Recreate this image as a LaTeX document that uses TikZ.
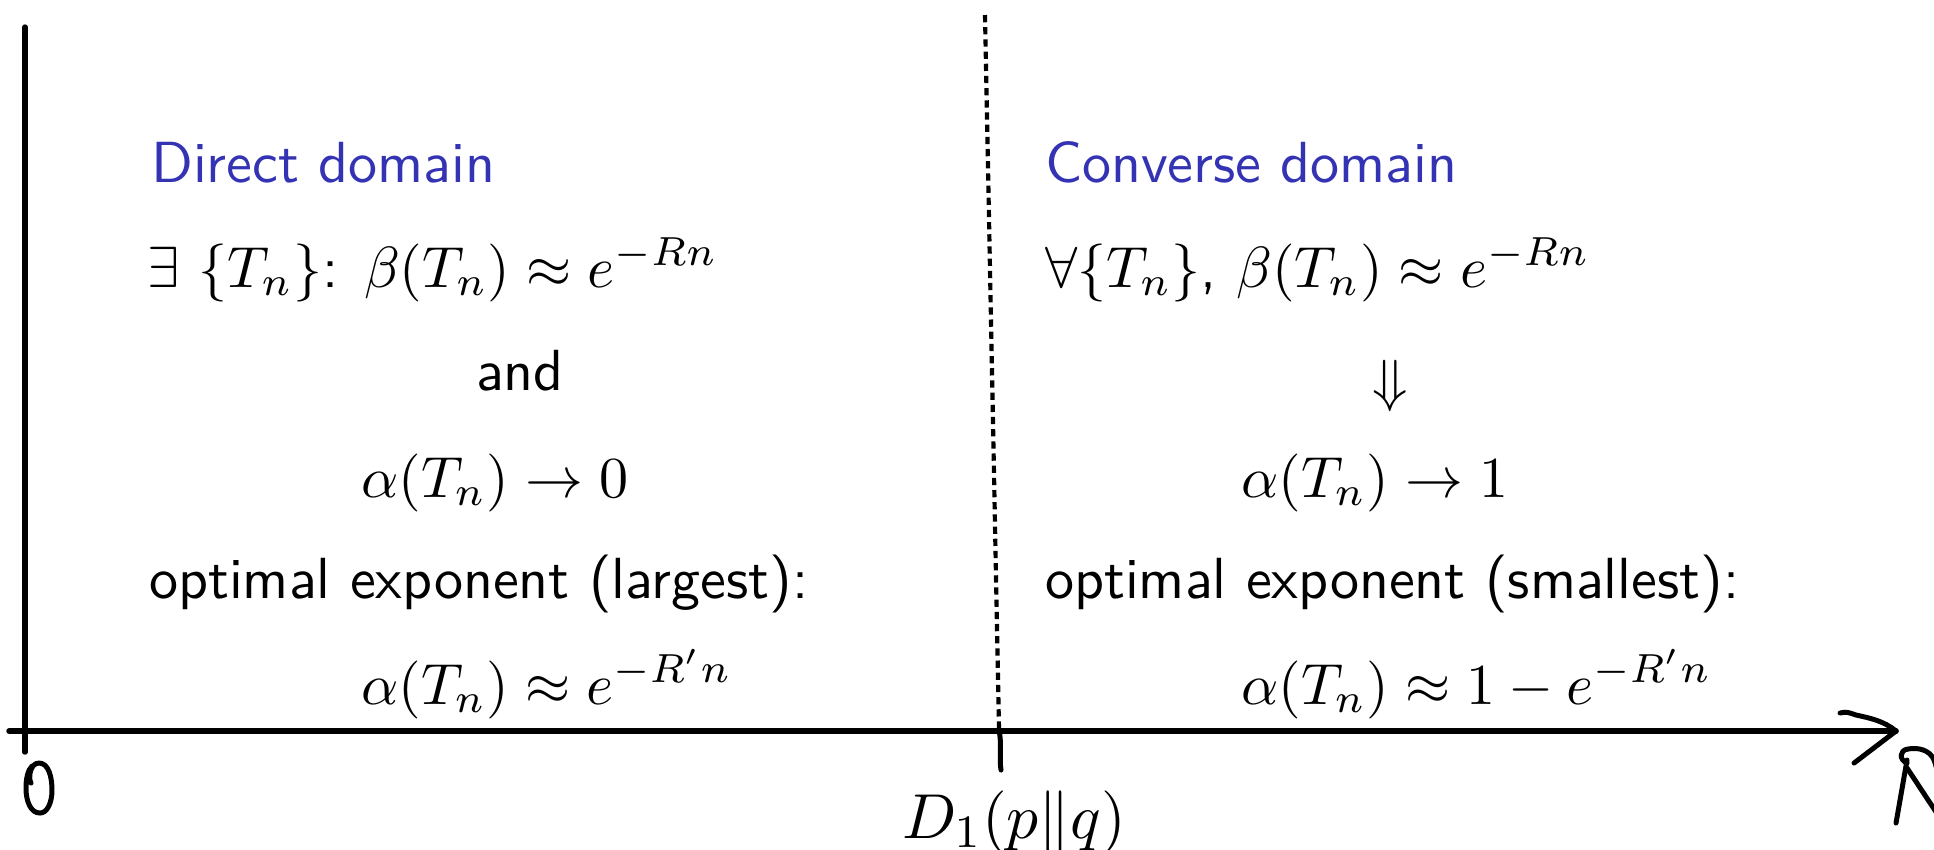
\documentclass[tikz,border=0pt]{standalone}
\usepackage{amsmath,amssymb}
\definecolor{domblue}{RGB}{51,51,179}
\tikzset{
  txt/.style={anchor=base west, inner sep=0pt, font=\fontsize{10}{12}\selectfont\sffamily},
  txtc/.style={anchor=base, inner sep=0pt, font=\fontsize{10}{12}\selectfont\sffamily},
  ttl/.style={txt, text=domblue},
  axisline/.style={line width=0.93pt, line cap=round},
  hand/.style={line width=0.86pt, line cap=round, line join=round},
  dashline/.style={line width=0.72pt, dash pattern=on 1.25pt off 0.85pt}
}
\begin{document}
\begin{tikzpicture}[x=0.1724pt,y=-0.1724pt]
\useasboundingbox (0,0) rectangle (1934,849);
% axes
\coordinate (ytop) at (25,27);
\coordinate (ybot) at (25,752);
\coordinate (xl) at (9,731);
\coordinate (xr) at (1896,731);
\draw[axisline] (ytop) -- (ybot);
\draw[axisline] (xl) -- (xr);
% hand drawn arrow head
\coordinate (ah1) at (1840,713);
\coordinate (ah2) at (1854,763);
\draw[hand] (ah1) .. controls (1846,711) and (1850,713) .. (1856,715)
  .. controls (1870,718) and (1884,721) .. (xr);
\draw[hand] (xr) -- (ah2);
% hand drawn R
\draw[hand] (1896,823) -- (1907,760);
\draw[hand] (1907,763) .. controls (1899,760) and (1899,750) .. (1908,749)
  .. controls (1918,747) and (1930,750) .. (1934,760)
  .. controls (1937,768) and (1938,775) .. (1940,785);
\draw[hand] (1907,768) -- (1940,818);
% hand drawn 0
\draw[hand] (31,783) .. controls (28,778) and (30,763) .. (39,763)
  .. controls (49,763) and (52,778) .. (52,790)
  .. controls (52,803) and (47,813) .. (40,813)
  .. controls (31,813) and (26,802) .. (26,788)
  .. controls (26,778) and (28,770) .. (32,766);
% dashed divider
\coordinate (dtop) at (985,15);
\coordinate (dbot) at (999,730);
\coordinate (tickb) at (1001,770);
\draw[dashline] (dtop) -- (dbot);
\draw[hand] (dbot) .. controls (1002,744) and (999,758) .. (tickb);
\node[anchor=base, inner sep=0pt, font=\fontsize{11}{13}\selectfont] (dlab) at (1014,838) {$D_1(p\|q)$};
% left column
\node[ttl] (dd) at (150,182) {Direct domain};
\node[txt] (l1) at (146,287) {$\exists$ $\{T_n\}$: $\beta(T_n)\approx e^{-Rn}$};
\node[txtc] (l2) at (520,390) {and};
\node[txt] (l3) at (360,497) {$\alpha(T_n)\rightarrow 0$};
\node[txt] (l4) at (148,598) {optimal exponent (largest):};
\node[txt] (l5) at (360,704) {$\alpha(T_n)\approx e^{-R'n}$};
% right column
\node[ttl] (cd) at (1044,182) {Converse domain};
\node[txt] (r1) at (1044,287) {$\forall\{T_n\}$, $\beta(T_n)\approx e^{-Rn}$};
\node[txtc] (r2) at (1390,400) {$\Downarrow$};
\node[txt] (r3) at (1240,497) {$\alpha(T_n)\rightarrow 1$};
\node[txt] (r4) at (1044,598) {optimal exponent (smallest):};
\node[txt] (r5) at (1240,704) {$\alpha(T_n)\approx 1-e^{-R'n}$};
\end{tikzpicture}
\end{document}
